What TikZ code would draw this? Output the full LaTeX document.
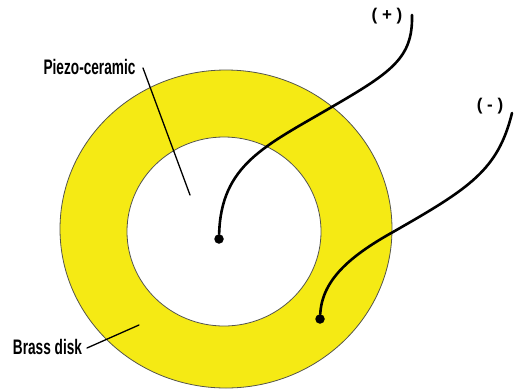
\documentclass[tikz,border=0pt]{standalone}
\usepackage{fontspec}
\usetikzlibrary{shapes.geometric}
\newfontfamily\labelfont[FakeStretch=0.65]{Liberation Sans}
\newfontfamily\polefont{Liberation Sans}
\definecolor{brass}{RGB}{245,234,20}
\definecolor{rim}{RGB}{85,85,75}

\begin{document}
\begin{tikzpicture}[
  x=1pt,
  y=-1pt,
  every path/.style={
    line cap=round
  },
  disk/.style={
    ellipse,
    draw=rim,
    line width=0.8pt,
    inner sep=0pt
  },
  lbl/.style={
    inner sep=0pt,
    font=\labelfont\bfseries\fontsize{21}{23}\selectfont
  },
  pole/.style={
    inner sep=0pt,
    font=\polefont\bfseries\fontsize{17}{19}\selectfont
  },
  solder/.style={
    circle,
    fill=black,
    minimum size=9.5pt,
    inner sep=0pt
  },
  wire/.style={
    black,
    line width=2.6pt
  },
  leader/.style={
    black,
    line width=1.3pt
  }
]
  \useasboundingbox (0,0) rectangle (519,389);

  \node[disk, fill=brass, minimum width=332pt, minimum height=318pt] (brass) at (226,229) {};
  \node[disk, fill=white, minimum width=194pt, minimum height=189pt] (ceramic) at (224,231.5) {};

  \node[lbl] (piezo) at (89.5,67) {Piezo-ceramic};
  \node[lbl] (disklbl) at (47.5,347) {Brass disk};
  \node[pole] (plus) at (387,16) {( + )};
  \node[pole] (minus) at (490,106) {( - )};

  \node[solder] (dot1) at (219,239) {};
  \node[solder] (dot2) at (320,319) {};

  \coordinate (piezoend) at (143,68);
  \coordinate (piezotip) at (190,195);
  \coordinate (brassend) at (87,348);
  \coordinate (brasstip) at (139,325);
  \coordinate (wire1) at (412,15);
  \coordinate (wire1mid) at (330,108);
  \coordinate (wire2) at (512,113);
  \coordinate (wire2mid) at (393,232);

  \draw[leader] (piezoend) -- (piezotip);
  \draw[leader] (brassend) -- (brasstip);
  \draw[wire] (wire1) .. controls (413,58) and (392,72) .. (wire1mid)
    .. controls (265,146) and (221,165) .. (dot1);
  \draw[wire] (wire2) .. controls (498,170) and (470,188) .. (wire2mid)
    .. controls (350,256) and (322,280) .. (dot2);
\end{tikzpicture}
\end{document}
